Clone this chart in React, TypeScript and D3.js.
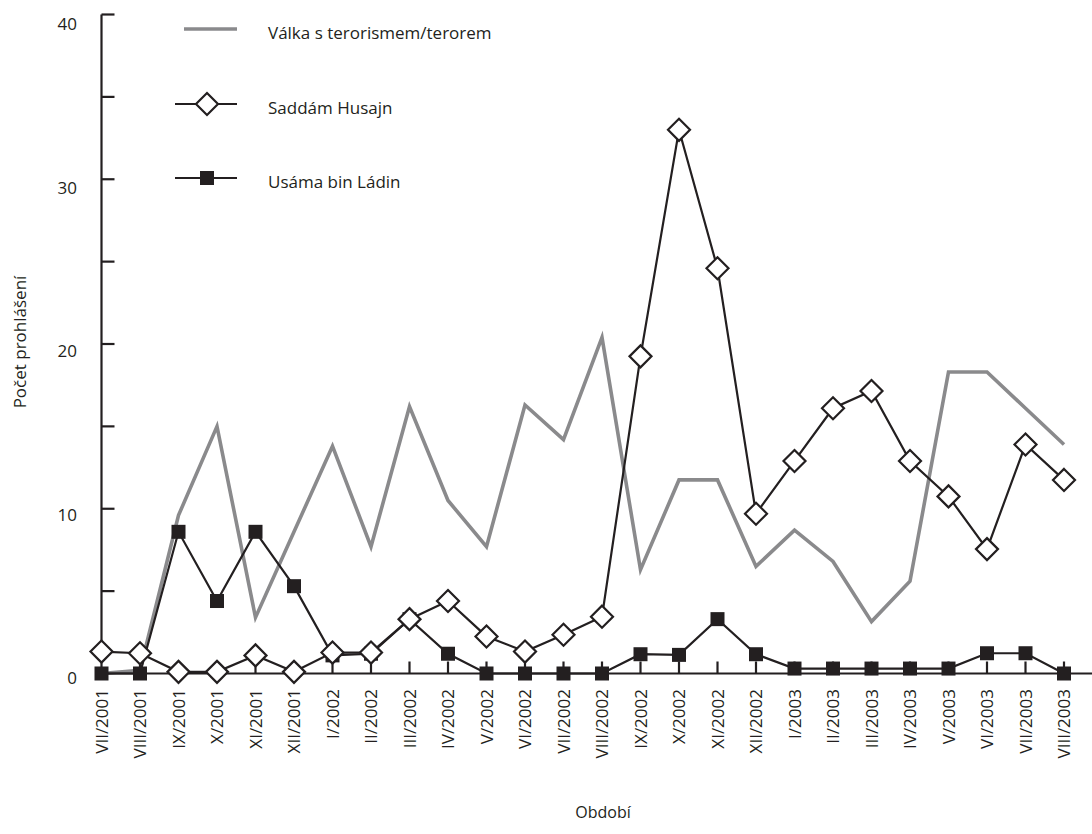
import React, { useEffect, useRef } from 'react'
import * as d3 from 'd3'

// období (months), VII/2001 .. VIII/2003
const categories = [
  'VII/2001', 'VIII/2001', 'IX/2001', 'X/2001', 'XI/2001', 'XII/2001',
  'I/2002', 'II/2002', 'III/2002', 'IV/2002', 'V/2002', 'VI/2002',
  'VII/2002', 'VIII/2002', 'IX/2002', 'X/2002', 'XI/2002', 'XII/2002',
  'I/2003', 'II/2003', 'III/2003', 'IV/2003', 'V/2003', 'VI/2003',
  'VII/2003', 'VIII/2003'
]

// počet prohlášení per series
const valka = [
  0, 0.2, 9.6, 15.0, 3.4, 8.6, 13.8, 7.7, 16.2, 10.5, 7.7, 16.3,
  14.2, 20.4, 6.3, 11.75, 11.75, 6.5, 8.7, 6.8, 3.15, 5.6, 18.3, 18.3,
  16.1, 13.9
]
const saddam = [
  1.33, 1.23, 0.1, 0.1, 1.1, 0.1, 1.27, 1.27, 3.3, 4.4, 2.25, 1.33,
  2.35, 3.45, 19.25, 33.0, 24.6, 9.7, 12.9, 16.1, 17.15, 12.9, 10.75, 7.55,
  13.9, 11.75
]
const usama = [
  0, 0, 8.6, 4.4, 8.6, 5.3, 1.1, 1.2, 3.3, 1.2, 0, 0,
  0, 0, 1.17, 1.13, 3.3, 1.17, 0.3, 0.3, 0.3, 0.3, 0.3, 1.23,
  1.23, 0
]

const yTicks = [0, 5, 10, 15, 20, 25, 30, 35, 40]
const yTickLabels = [0, 10, 20, 30, 40]

const seriesNames = ['Válka s terorismem/terorem', 'Saddám Husajn', 'Usáma bin Ládin']

const INK = '#231f20'
const GREY = '#8a8a8c'
const FONT = '"Open Sans", "Noto Sans", sans-serif'

export default function App() {
  const svgRef = useRef<SVGSVGElement | null>(null)

  useEffect(() => {
    if (!svgRef.current) return
    const width = 1092
    const height = 834
    const svg = d3.select(svgRef.current)
    svg.selectAll('*').remove()
    svg.attr('width', width).attr('height', height)

    const x = d3.scalePoint<string>().domain(categories).range([101.5, 1064])
    const y = d3.scaleLinear().domain([0, 40]).range([673.5, 14.5])
    // the tick labels sit a little below their ticks, more so at the top
    const yLabel = d3.scaleLinear().domain([0, 40]).range([684, 30])

    const line = d3.line<number>()
      .x((_, i) => x(categories[i])!)
      .y(d => y(d))

    // Válka s terorismem/terorem (under the axes)
    svg.append('path')
      .datum(valka)
      .attr('d', line)
      .attr('fill', 'none')
      .attr('stroke', GREY)
      .attr('stroke-width', 3.6)
      .attr('stroke-linejoin', 'miter')

    // axes
    const axes = svg.append('g').attr('stroke', INK).attr('stroke-width', 2.2)
    axes.append('line')
      .attr('x1', x(categories[0])!).attr('x2', x(categories[0])!)
      .attr('y1', y(40)).attr('y2', y(0))
    axes.append('line')
      .attr('x1', x(categories[0])!).attr('x2', width)
      .attr('y1', y(0)).attr('y2', y(0))
    axes.selectAll('line.ytick')
      .data(yTicks.filter(d => d > 0))
      .enter().append('line')
      .attr('class', 'ytick')
      .attr('x1', x(categories[0])!).attr('x2', x(categories[0])! + 13)
      .attr('y1', d => y(d)).attr('y2', d => y(d))
    axes.selectAll('line.xtick')
      .data(categories.slice(1))
      .enter().append('line')
      .attr('class', 'xtick')
      .attr('x1', d => x(d)!).attr('x2', d => x(d)!)
      .attr('y1', y(0)).attr('y2', y(0) - 12)

    svg.append('g')
      .selectAll('text')
      .data(yTickLabels)
      .enter().append('text')
      .attr('x', 77)
      .attr('y', d => yLabel(d))
      .attr('text-anchor', 'end')
      .style('font-family', FONT)
      .style('font-size', '17px')
      .attr('fill', INK)
      .text(d => d)

    svg.append('g')
      .selectAll('text')
      .data(categories)
      .enter().append('text')
      .attr('transform', d => `translate(${x(d)! + 6}, 689) rotate(-90)`)
      .attr('text-anchor', 'end')
      .style('font-family', FONT)
      .style('font-size', '17px')
      .attr('fill', INK)
      .text(d => d)

    // axis titles
    svg.append('text')
      .attr('transform', 'translate(26, 342) rotate(-90)')
      .attr('text-anchor', 'middle')
      .style('font-family', FONT)
      .style('font-size', '17px')
      .attr('fill', INK)
      .text('Počet prohlášení')
    svg.append('text')
      .attr('x', 603).attr('y', 818)
      .attr('text-anchor', 'middle')
      .style('font-family', FONT)
      .style('font-size', '16px')
      .attr('fill', INK)
      .text('Období')

    // Usáma bin Ládin
    svg.append('path')
      .datum(usama)
      .attr('d', line)
      .attr('fill', 'none')
      .attr('stroke', INK)
      .attr('stroke-width', 2.2)
    svg.append('g')
      .selectAll('rect')
      .data(usama)
      .enter().append('rect')
      .attr('x', (_, i) => x(categories[i])! - 7)
      .attr('y', d => y(d) - 7)
      .attr('width', 14).attr('height', 14)
      .attr('fill', INK)

    // Saddám Husajn
    const diamond = (cx: number, cy: number, r: number) =>
      `M${cx},${cy - r}L${cx + r},${cy}L${cx},${cy + r}L${cx - r},${cy}Z`
    svg.append('path')
      .datum(saddam)
      .attr('d', line)
      .attr('fill', 'none')
      .attr('stroke', INK)
      .attr('stroke-width', 2.2)
    svg.append('g')
      .selectAll('path')
      .data(saddam)
      .enter().append('path')
      .attr('d', (d, i) => diamond(x(categories[i])!, y(d), 11))
      .attr('fill', '#fff')
      .attr('stroke', INK)
      .attr('stroke-width', 2.2)

    // legend
    const legend = svg.append('g')
    const rows = [29, 104, 178]
    legend.append('line')
      .attr('x1', 184).attr('x2', 237).attr('y1', rows[0]).attr('y2', rows[0])
      .attr('stroke', GREY).attr('stroke-width', 3.6)
    legend.append('line')
      .attr('x1', 175).attr('x2', 237).attr('y1', rows[1]).attr('y2', rows[1])
      .attr('stroke', INK).attr('stroke-width', 2.2)
    legend.append('path')
      .attr('d', diamond(207, rows[1], 11))
      .attr('fill', '#fff').attr('stroke', INK).attr('stroke-width', 2.2)
    legend.append('line')
      .attr('x1', 175).attr('x2', 237).attr('y1', rows[2]).attr('y2', rows[2])
      .attr('stroke', INK).attr('stroke-width', 2.2)
    legend.append('rect')
      .attr('x', 200).attr('y', rows[2] - 7).attr('width', 14).attr('height', 14)
      .attr('fill', INK)
    legend.selectAll('text')
      .data(seriesNames)
      .enter().append('text')
      .attr('x', 268)
      .attr('y', (_, i) => rows[i] + 10)
      .style('font-family', FONT)
      .style('font-size', '17px')
      .attr('fill', INK)
      .text(d => d)
  }, [])

  return (
    <svg
      ref={svgRef}
      style={{ position: 'absolute', left: 0, top: 0, background: '#fff' }}
    ></svg>
  )
}
